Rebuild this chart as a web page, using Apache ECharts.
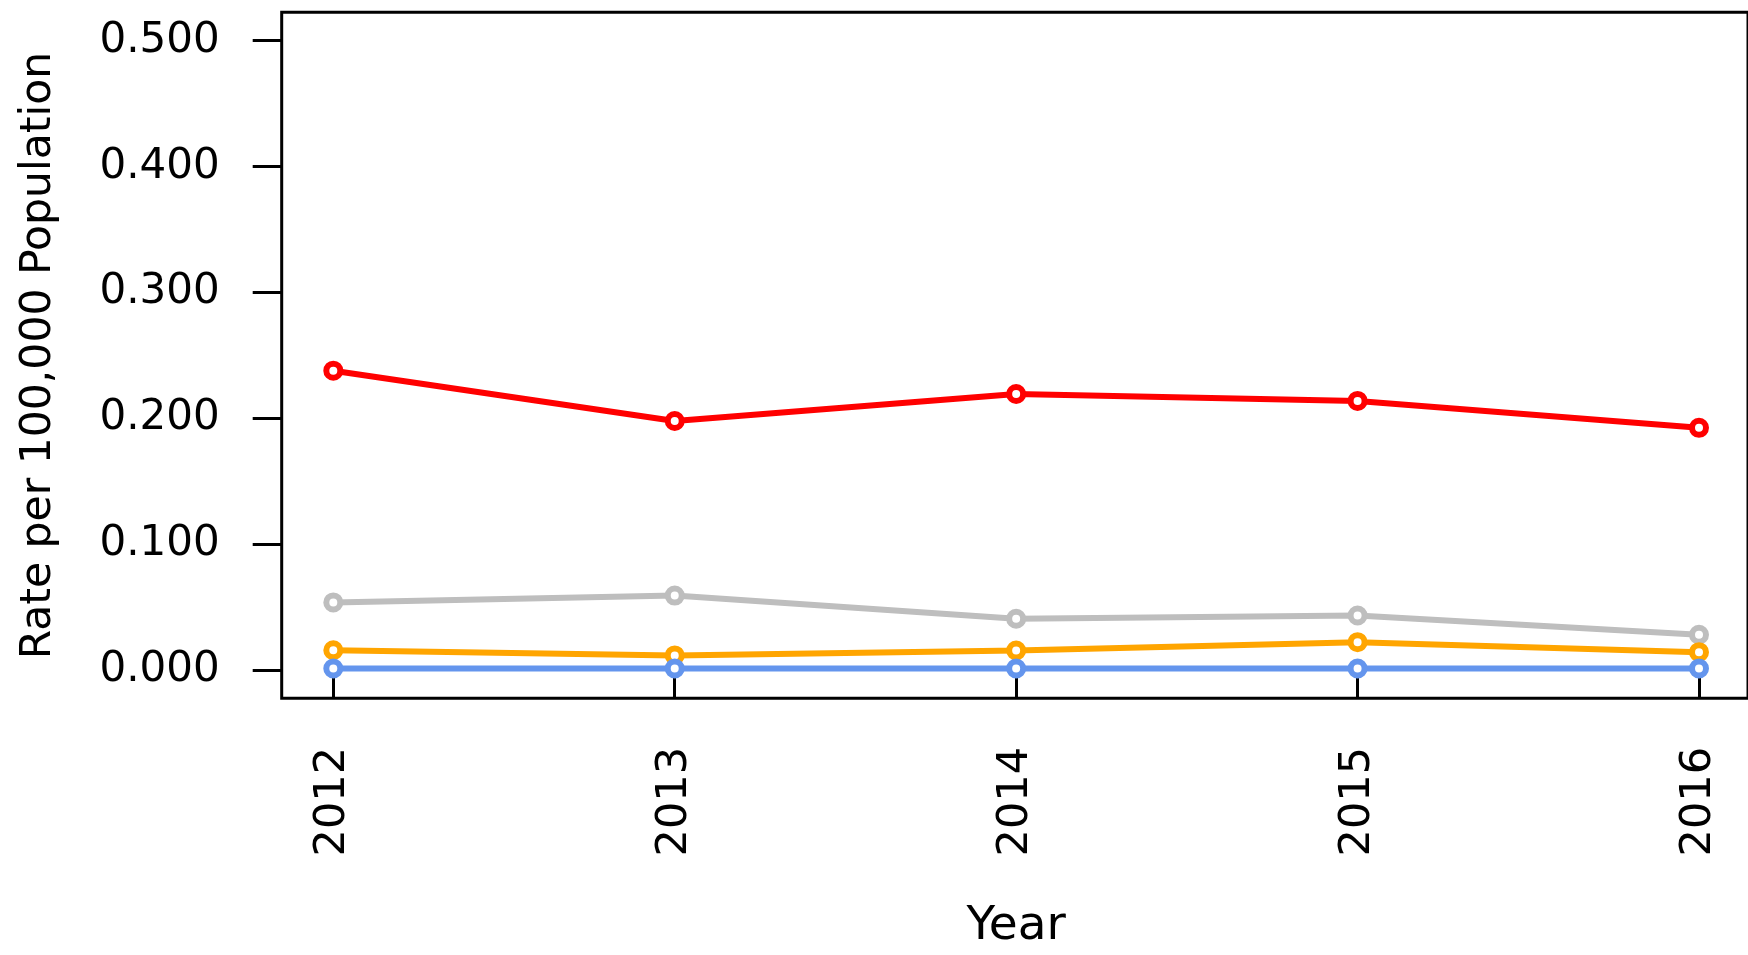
<!DOCTYPE html>
<html>
<head>
<meta charset="utf-8">
<script src="https://cdn.jsdelivr.net/npm/echarts@6/dist/echarts.min.js"></script>
<style>html,body{margin:0;padding:0;background:#fff}#c{width:1748px;height:955px}</style>
</head>
<body>
<div id="c"></div>
<script>
const years = [2012, 2013, 2014, 2015, 2016];
const redRate = [0.238, 0.198, 0.2195, 0.214, 0.1926];
const grayRate = [0.054, 0.0594, 0.041, 0.0436, 0.0283];
const orangeRate = [0.016, 0.0119, 0.0158, 0.0224, 0.0145];
const blueRate = [0.0015, 0.0015, 0.0015, 0.0015, 0.0015];
const yTicks = [0, 0.1, 0.2, 0.3, 0.4, 0.5];

const FONT = 'DejaVu Sans';
function pairs(vals) { return years.map((y, i) => [y, vals[i]]); }
function mk(name, color, vals) {
  return {
    name: name, type: 'line', xAxisIndex: 0, yAxisIndex: 0,
    data: pairs(vals),
    symbol: 'circle', symbolSize: 14, showSymbol: true,
    lineStyle: { color: color, width: 6 },
    itemStyle: { color: '#fff', borderColor: color, borderWidth: 6 },
    emphasis: { disabled: true },
    animation: false
  };
}
const chart = echarts.init(document.getElementById('c'), null, { renderer: 'canvas' });
chart.setOption({
  animation: false,
  backgroundColor: '#fff',
  grid: [
    { left: 333.3, top: 40.7, right: 49, bottom: 283.3, show: false },
    { left: 281.7, top: 12.3, width: 1600, bottom: 256.7, show: true,
      borderColor: '#000', borderWidth: 3, backgroundColor: 'transparent' }
  ],
  xAxis: [
    { type: 'value', gridIndex: 0, min: years[0], max: years[years.length - 1], interval: 1,
      offset: 26.6,
      axisLine: { show: false },
      axisTick: { show: true, length: 28, lineStyle: { color: '#000', width: 3 } },
      splitLine: { show: false },
      axisLabel: { rotate: 90, margin: 50, color: '#000', fontFamily: FONT, fontSize: 43,
        formatter: v => String(v) },
      name: 'Year', nameLocation: 'middle', nameGap: 206,
      nameTextStyle: { color: '#000', fontFamily: FONT, fontSize: 47 }
    },
    { type: 'value', gridIndex: 1, show: false }
  ],
  yAxis: [
    { type: 'value', gridIndex: 0, min: yTicks[0], max: yTicks[yTicks.length - 1], interval: 0.1,
      offset: 51.6,
      axisLine: { show: false },
      axisTick: { show: true, length: 29, lineStyle: { color: '#000', width: 3 } },
      splitLine: { show: false },
      axisLabel: { margin: 62, color: '#000', fontFamily: FONT, fontSize: 42,
        padding: [8, 0, 0, 0], formatter: v => v.toFixed(3) },
      name: 'Rate per 100,000 Population', nameLocation: 'middle', nameGap: 221, nameRotate: 90,
      nameTextStyle: { color: '#000', fontFamily: FONT, fontSize: 42.5 }
    },
    { type: 'value', gridIndex: 1, show: false }
  ],
  series: [
    mk('Red', '#FF0000', redRate),
    mk('Gray', '#BEBEBE', grayRate),
    mk('Orange', '#FFA500', orangeRate),
    mk('Blue', '#6495ED', blueRate)
  ]
});
</script>
</body>
</html>
